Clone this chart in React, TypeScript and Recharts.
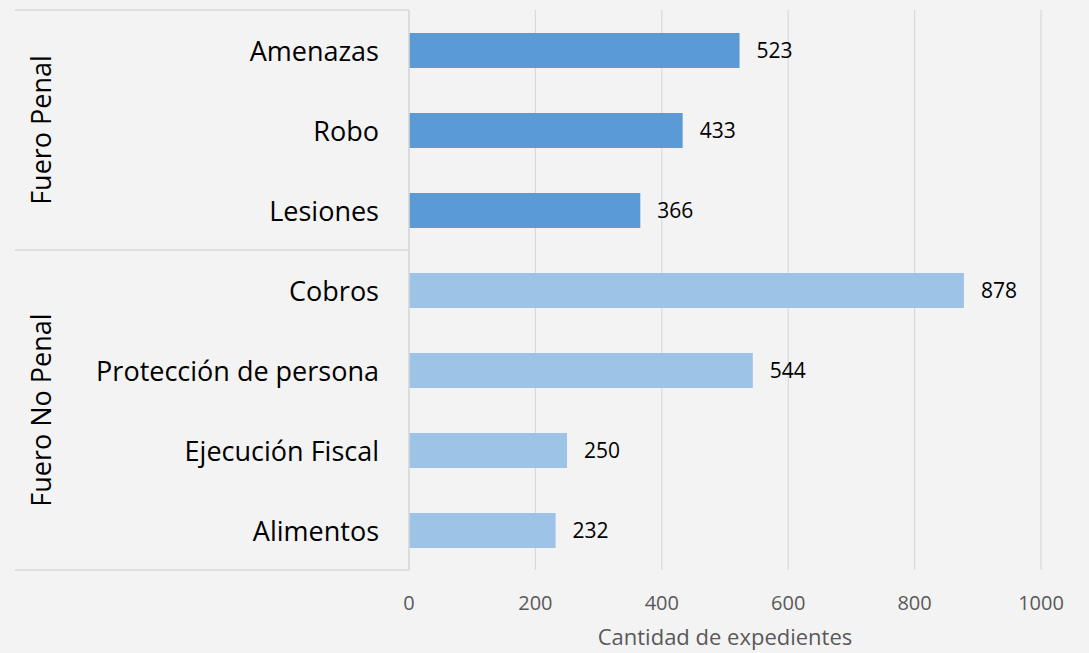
import { BarChart, Bar, XAxis, YAxis, CartesianGrid, LabelList, Cell } from 'recharts';

const categories = ['Amenazas', 'Robo', 'Lesiones', 'Cobros', 'Protección de persona', 'Ejecución Fiscal', 'Alimentos'];
const values = [523, 433, 366, 878, 544, 250, 232];
const groups = ['Fuero Penal', 'Fuero Penal', 'Fuero Penal', 'Fuero No Penal', 'Fuero No Penal', 'Fuero No Penal', 'Fuero No Penal'];
const xTicks = [0, 200, 400, 600, 800, 1000];

const groupColors: Record<string, string> = {
  'Fuero Penal': '#5B9BD5',
  'Fuero No Penal': '#9DC3E6',
};

const data = categories.map((name, i) => ({ name, value: values[i], group: groups[i] }));

const W = 1089;
const H = 653;
const xAxisHeight = 83;
const margin = { top: 10, right: 48, bottom: 0, left: 15 };
const yAxisWidth = 394;
const band = (H - margin.top - xAxisHeight) / categories.length;
const font = '"Open Sans", sans-serif';

function CategoryTick(props: any) {
  const { x, y, payload, index } = props;
  const group = groups[index];
  const first = index === 0 || groups[index - 1] !== group;
  const lastAll = index === groups.length - 1;
  const size = groups.filter((g) => g === group).length;
  const axisX = x;
  const leftX = axisX - yAxisWidth;
  const gx = leftX + 25;
  const gy = y - band / 2 + (size * band) / 2;
  return (
    <g>
      <text x={axisX - 30} y={y} textAnchor="end" dominantBaseline="central" fontSize={27} fill="#000" fontFamily={font}>
        {payload.value}
      </text>
      {first && (
        <>
          <line x1={leftX} x2={axisX} y1={y - band / 2} y2={y - band / 2} stroke="#d9d9d9" strokeWidth={1.5} />
          <text
            x={gx}
            y={gy}
            textAnchor="middle"
            dominantBaseline="central"
            fontSize={27}
            fill="#000"
            fontFamily={font}
            transform={`rotate(-90 ${gx} ${gy})`}
          >
            {group}
          </text>
        </>
      )}
      {lastAll && <line x1={leftX} x2={axisX} y1={y + band / 2} y2={y + band / 2} stroke="#d9d9d9" strokeWidth={1.5} />}
    </g>
  );
}

export default function App() {
  return (
    <div style={{ position: 'absolute', left: 0, top: 0, width: W, height: H, background: '#f3f3f3' }}>
      <BarChart width={W} height={H} data={data} layout="vertical" margin={margin}>
        <CartesianGrid horizontal={false} stroke="#d9d9d9" strokeWidth={1.2} />
        <XAxis
          type="number"
          domain={[0, 1000]}
          ticks={xTicks}
          height={xAxisHeight}
          axisLine={false}
          tickLine={false}
          tick={{ fontSize: 20, fill: '#595959', fontFamily: font }}
          tickMargin={20}
          label={{ value: 'Cantidad de expedientes', position: 'insideBottom', offset: 8, fontSize: 22, fill: '#595959', fontFamily: font }}
        />
        <YAxis
          type="category"
          dataKey="name"
          width={yAxisWidth}
          axisLine={{ stroke: '#d9d9d9', strokeWidth: 1.5 }}
          tickLine={false}
          tickSize={0}
          tickMargin={0}
          tick={<CategoryTick />}
          interval={0}
        />
        <Bar dataKey="value" barSize={35} isAnimationActive={false}>
          {data.map((d) => (
            <Cell key={d.name} fill={groupColors[d.group]} />
          ))}
          <LabelList dataKey="value" position="right" offset={17} fontSize={21} fill="#000" fontFamily={font} />
        </Bar>
      </BarChart>
    </div>
  );
}
